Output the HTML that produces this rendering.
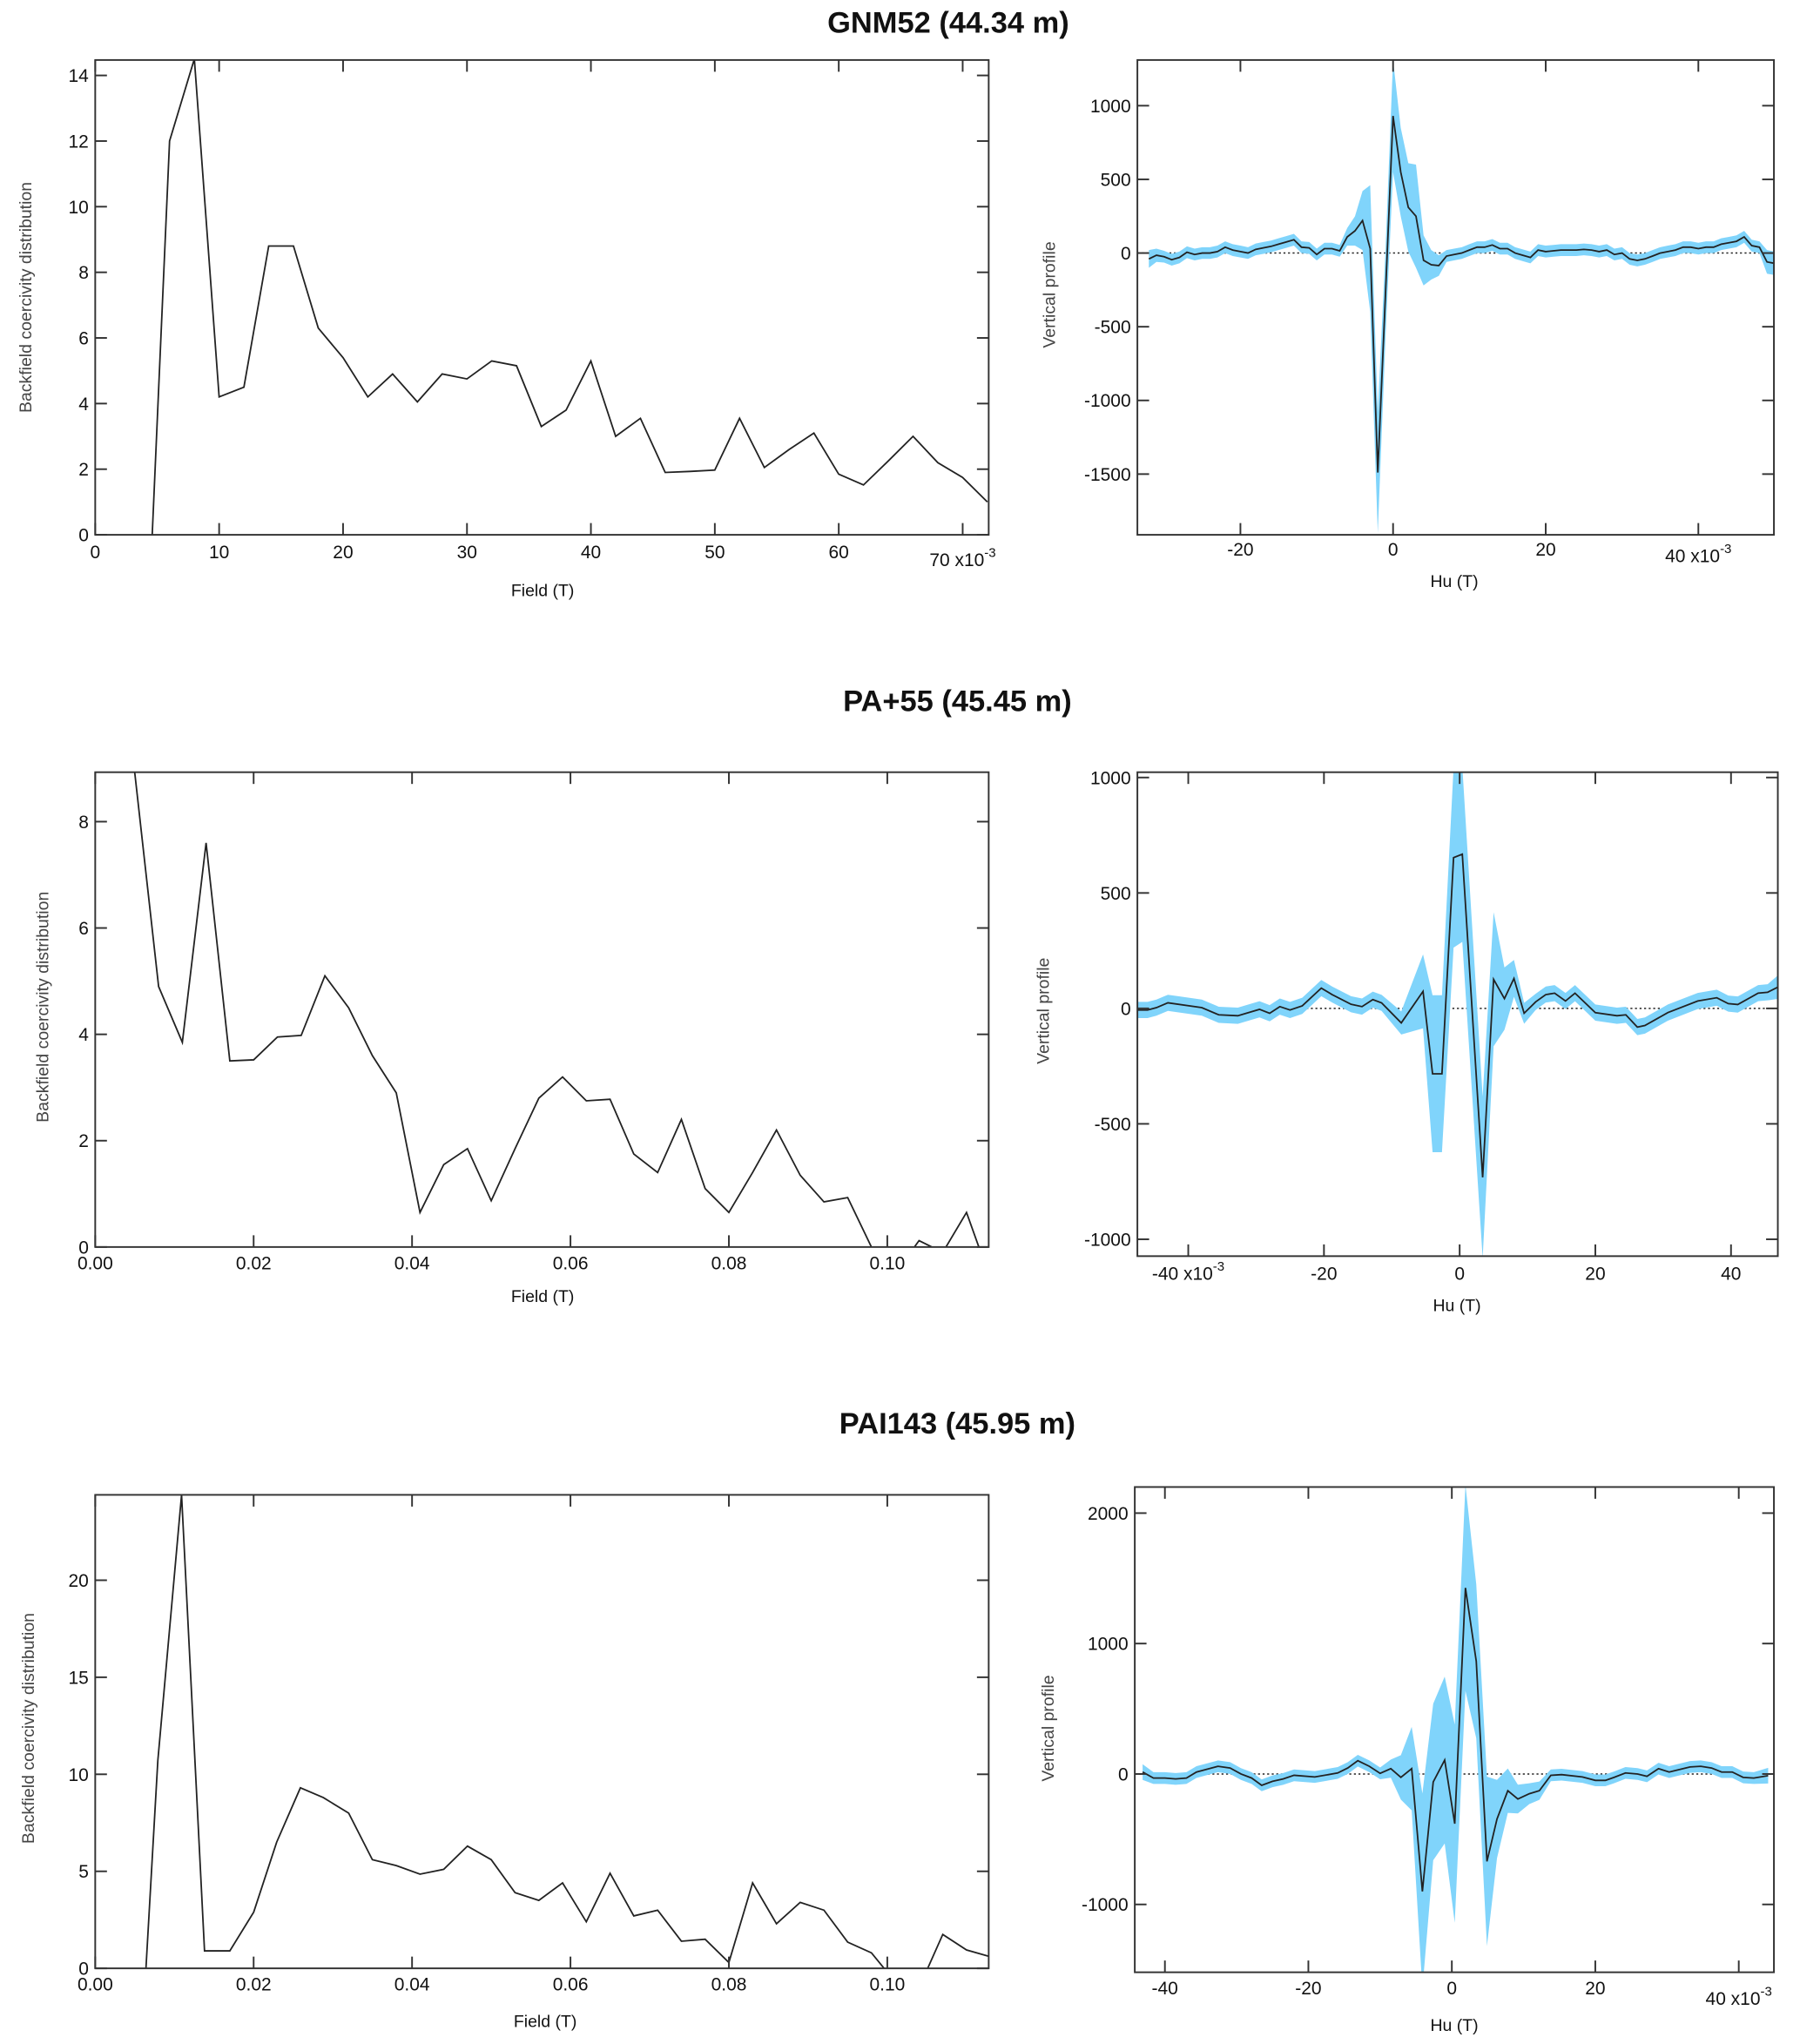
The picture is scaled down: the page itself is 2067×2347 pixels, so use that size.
<!DOCTYPE html>
<html><head><meta charset="utf-8"><style>
html,body{margin:0;padding:0;background:#fff;}
svg{display:block;}
text{font-family:"Liberation Sans Narrow","Liberation Sans",sans-serif;fill:#111;}
.t{font-family:"Liberation Sans Narrow","Liberation Sans",sans-serif;font-weight:bold;font-size:23px;}
</style></head><body>
<svg id="fig" width="2067" height="2347" viewBox="0 0 1380 1567" preserveAspectRatio="none" xmlns="http://www.w3.org/2000/svg">
<text class="t" x="727" y="25" text-anchor="middle">GNM52 (44.34 m)</text>
<text class="t" x="734" y="545" text-anchor="middle">PA+55 (45.45 m)</text>
<text class="t" x="734" y="1099" text-anchor="middle">PAI143 (45.95 m)</text>
</svg>
<script>
// ---- Chart 1 left (GNM52 coercivity) ----
const c1x = [4.6,6,8,10,12,14,16,18,20,22,24,26,28,30,32,34,36,38,40,42,44,46,48,50,52,54,56,58,60,62,64,66,68,70,72];
const c1y = [0,12,14.5,4.2,4.5,8.8,8.8,6.3,5.4,4.2,4.9,4.05,4.9,4.75,5.3,5.15,3.3,3.8,5.3,3.0,3.55,1.9,1.93,1.97,3.55,2.05,2.6,3.1,1.85,1.52,2.25,3.0,2.2,1.75,1.0];
const c1xt = [0,10,20,30,40,50,60,70];
const c1yt = [0,2,4,6,8,10,12,14];
// ---- Chart 1 right (GNM52 vertical profile) ----
const r1x = [-32,-31,-30,-29,-28,-27,-26,-25,-24,-23,-22,-21,-20,-19,-18,-17,-16,-15,-14,-13,-12,-11,-10,-9,-8,-7,-6,-5,-4,-3,-2,-1,0,1,2,3,4,5,6,7,8,9,10,11,12,13,14,15,16,17,18,19,20,21,22,23,24,25,26,27,28,29,30,31,32,33,34,35,36,37,38,39,40,41,42,43,44,45,46,47,48,49,50];
const r1y = [-40,-15,-25,-45,-30,5,-10,0,0,10,40,20,10,0,25,35,45,60,75,90,40,35,-10,30,30,15,110,150,220,30,-1490,-280,930,550,310,250,-50,-80,-85,-20,-10,0,20,40,40,55,30,30,0,-15,-30,20,10,15,20,20,20,25,20,10,20,-10,0,-40,-50,-40,-20,0,10,20,40,40,30,40,40,60,70,80,110,50,40,-60,-70];
const r1e = [60,45,40,40,40,40,40,40,40,40,40,40,40,40,40,40,40,40,40,40,40,40,40,40,40,40,60,100,200,430,410,300,380,300,300,350,170,100,70,40,40,40,40,40,40,40,40,40,40,40,40,40,40,40,40,40,40,40,40,40,40,40,40,40,40,40,40,40,40,40,40,40,40,40,40,40,40,40,40,40,40,80,80];
const r1xt = [-20,0,20,40];
const r1yt = [-1500,-1000,-500,0,500,1000];
// ---- Chart 2 left (PA+55 coercivity) ----
const c2x = [0.004,0.005,0.008,0.011,0.014,0.017,0.020,0.023,0.026,0.029,0.032,0.035,0.038,0.041,0.044,0.047,0.050,0.053,0.056,0.059,0.062,0.065,0.068,0.071,0.074,0.077,0.080,0.083,0.086,0.089,0.092,0.095,0.098,0.101,0.104,0.107,0.110,0.113];
const c2y = [10,8.9,4.9,3.85,7.6,3.5,3.52,3.95,3.98,5.1,4.5,3.6,2.9,0.65,1.55,1.85,0.87,1.85,2.8,3.2,2.75,2.78,1.75,1.4,2.4,1.1,0.65,1.4,2.2,1.35,0.85,0.93,0.0,-0.5,0.12,-0.1,0.65,-0.6];
const c2xt = [0,0.02,0.04,0.06,0.08,0.10];
const c2yt = [0,2,4,6,8];
// ---- Chart 2 right (PA+55 vertical profile) ----
const r2x = [-48.5,-46,-44.7,-43,-38,-35.5,-32.7,-29.5,-28,-26.5,-25,-23.2,-20.4,-18.8,-16,-14.4,-12.8,-11.5,-8.6,-5.4,-4,-2.6,-0.9,0.4,3.4,5,6.6,8,9.5,11.2,12.7,14,15.6,17,20,23.2,24.5,26.2,27.3,30.7,35.1,37.9,39.6,41,44,45.4,47.3];
const r2y = [-7,-7,3,24,3,-28,-32,-4,-21,8,-7,11,88,60,18,8,38,24,-63,74,-283,-283,653,668,-732,126,42,130,-21,28,60,66,32,66,-18,-32,-28,-81,-74,-18,32,46,21,17,66,70,98];
const r2e = [35,35,35,35,35,35,35,35,35,35,35,35,35,35,35,35,35,35,50,160,340,340,390,380,350,290,135,80,45,35,35,35,35,35,35,35,35,35,35,35,35,35,35,35,35,35,55];
const r2xt = [-40,-20,0,20,40];
const r2yt = [-1000,-500,0,500,1000];
// ---- Chart 3 left (PAI143 coercivity) ----
const c3x = [0.0064,0.0079,0.0109,0.0138,0.017,0.020,0.0229,0.0259,0.0288,0.032,0.035,0.038,0.041,0.044,0.047,0.050,0.053,0.056,0.059,0.062,0.065,0.068,0.071,0.074,0.077,0.080,0.083,0.086,0.089,0.092,0.095,0.098,0.101,0.104,0.107,0.110,0.113];
const c3y = [0,10.7,24.4,0.9,0.9,2.9,6.5,9.3,8.8,8.0,5.6,5.3,4.85,5.1,6.3,5.6,3.9,3.5,4.4,2.4,4.9,2.7,3.0,1.4,1.5,0.3,4.4,2.3,3.4,3.0,1.35,0.8,-0.7,-1,1.75,0.95,0.6];
const c3xt = [0,0.02,0.04,0.06,0.08,0.10];
const c3yt = [0,5,10,15,20];
// ---- Chart 3 right (PAI143 vertical profile) ----
const r3x = [-43.1,-41.6,-40,-38.5,-37,-35.6,-32.6,-30.9,-29.4,-27.9,-26.5,-25,-23.5,-22,-19.1,-15.9,-14.5,-13.1,-11.5,-10,-8.5,-7.1,-5.6,-4.1,-2.6,-1,0.4,1.9,3.4,4.9,6.3,7.8,9.2,10.8,12.2,13.8,15.3,18.2,20,21.4,22.6,24.2,25.9,27.2,28.8,30.3,33.2,34.7,36.2,37.6,39.1,40.6,42.1,44.1];
const r3y = [15,-31,-31,-38,-31,15,59,46,0,-31,-87,-56,-38,-10,-23,8,46,102,59,5,41,-26,41,-900,-61,107,-381,1427,864,-670,-345,-128,-192,-151,-128,-10,-5,-23,-49,-49,-26,8,0,-18,41,15,54,59,46,15,15,-26,-31,-13];
const r3e = [60,45,45,45,45,45,45,45,45,45,45,45,45,45,45,45,45,45,45,45,70,170,320,750,600,640,760,790,590,650,300,170,110,80,70,45,45,45,45,45,45,45,45,45,45,45,45,45,45,45,45,45,45,60];
const r3xt = [-40,-20,0,20,40];
const r3yt = [-1000,0,1000,2000];

const NS = 'http://www.w3.org/2000/svg';
const svg = document.getElementById('fig');
function mk(tag, attrs, parent) {
  const e = document.createElementNS(NS, tag);
  for (const k in attrs) e.setAttribute(k, attrs[k]);
  (parent || svg).appendChild(e);
  return e;
}
function fmt(v, dec) { return dec ? v.toFixed(dec) : String(v); }

function chart(cfg) {
  const g = mk('g', {});
  
  
  const sx = v => cfg.L + (v - cfg.x0) / (cfg.x1 - cfg.x0) * (cfg.R - cfg.L);
  const sy = v => cfg.B - (v - cfg.y0) / (cfg.y1 - cfg.y0) * (cfg.B - cfg.T);
  const clipId = cfg.name + '-clip';
  const defs = mk('defs', {}, g);
  const cp = mk('clipPath', {id: clipId}, defs);
  mk('rect', {x: cfg.L, y: cfg.T, width: cfg.R - cfg.L, height: cfg.B - cfg.T}, cp);
  const plot = mk('g', {'clip-path': 'url(#' + clipId + ')'}, g);
  
  
  if (cfg.err) {
    const zl = mk('line', {x1: cfg.L, x2: cfg.R, y1: sy(0), y2: sy(0), stroke: '#222', 'stroke-width': 1, 'stroke-dasharray': '1.5,2'}, plot);
    
    
    let up = '', lo = '';
    cfg.xs.forEach((x, i) => { up += (i ? 'L' : 'M') + sx(x).toFixed(1) + ',' + sy(cfg.ys[i] + cfg.err[i]).toFixed(1); });
    for (let i = cfg.xs.length - 1; i >= 0; i--) lo += 'L' + sx(cfg.xs[i]).toFixed(1) + ',' + sy(cfg.ys[i] - cfg.err[i]).toFixed(1);
    const band = mk('path', {d: up + lo + 'Z', fill: '#80d4fb', stroke: 'none'}, plot);
    
    
  }
  let d = '';
  cfg.xs.forEach((x, i) => { d += (i ? 'L' : 'M') + sx(x).toFixed(1) + ',' + sy(cfg.ys[i]).toFixed(1); });
  const ln = mk('path', {d: d, fill: 'none', stroke: '#222', 'stroke-width': 1.2}, plot);
  
  
  const fr = mk('rect', {x: cfg.L, y: cfg.T, width: cfg.R - cfg.L, height: cfg.B - cfg.T, fill: 'none', stroke: '#333', 'stroke-width': 1.3}, g);
  
  
  const tl = 9;
  cfg.xt.forEach((v, i) => {
    const x = sx(v);
    mk('line', {x1: x, x2: x, y1: cfg.B, y2: cfg.B - tl, stroke: '#333', 'stroke-width': 1.3}, g);
    mk('line', {x1: x, x2: x, y1: cfg.T, y2: cfg.T + tl, stroke: '#333', 'stroke-width': 1.3}, g);
    let label = fmt(v, cfg.xdec);
    const t = mk('text', {x: x, y: cfg.B + cfg.xly, 'text-anchor': 'middle', 'font-size': 14}, g);
    
    
    if (cfg.xexp === i) {
      t.setAttribute('dy', cfg.xexpDy || 0);
      t.textContent = label + ' x10';
      const s = mk('tspan', {'font-size': 10, dy: -7}, t);
      s.textContent = '-3';
    } else t.textContent = label;
  });
  cfg.yt.forEach(v => {
    const y = sy(v);
    mk('line', {x1: cfg.L, x2: cfg.L + tl, y1: y, y2: y, stroke: '#333', 'stroke-width': 1.3}, g);
    mk('line', {x1: cfg.R, x2: cfg.R - tl, y1: y, y2: y, stroke: '#333', 'stroke-width': 1.3}, g);
    const t = mk('text', {x: cfg.L - 5, y: y + 5, 'text-anchor': 'end', 'font-size': 14}, g);
    
    
    t.textContent = fmt(v, cfg.ydec);
  });
  const xt = mk('text', {x: cfg.xtx, y: cfg.xty, 'text-anchor': 'middle', 'font-size': 13}, g);
  
  
  xt.textContent = cfg.xtitle;
  const yt = mk('text', {x: 0, y: 0, 'text-anchor': 'middle', 'font-size': 13, transform: 'translate(' + cfg.ytx + ',' + cfg.yty + ') rotate(-90)', style: 'fill:#444;font-family:Liberation Sans,sans-serif'}, g);
  
  
  yt.textContent = cfg.ytitle;
}

const ylab = 'Backfield coercivity distribution';
chart({name:'gnm52-coercivity-chart', L:73, R:758, T:46, B:410, x0:0, x1:72.1, y0:0, y1:14.47, xs:c1x, ys:c1y, xt:c1xt, yt:c1yt, xly:18, xexp:7, xexpDy:6, xtitle:'Field (T)', xtx:416, xty:457, ytitle:ylab, ytx:24, yty:228});
chart({name:'gnm52-vertical-profile-chart', L:872, R:1360, T:46, B:410, x0:-33.5, x1:49.9, y0:-1912, y1:1310, xs:r1x, ys:r1y, err:r1e, xt:r1xt, yt:r1yt, xly:16, xexp:3, xexpDy:5, xtitle:'Hu (T)', xtx:1115, xty:450, ytitle:'Vertical profile', ytx:809, yty:226});
chart({name:'pa55-coercivity-chart', L:73, R:758, T:592, B:956, x0:0, x1:0.1128, y0:0, y1:8.93, xs:c2x, ys:c2y, xt:c2xt, yt:c2yt, xdec:2, xly:17, xtitle:'Field (T)', xtx:416, xty:998, ytitle:ylab, ytx:37, yty:772});
chart({name:'pa55-vertical-profile-chart', L:872, R:1363, T:592, B:963, x0:-47.5, x1:46.9, y0:-1073, y1:1023, xs:r2x, ys:r2y, err:r2e, xt:r2xt, yt:r2yt, xly:18, xexp:0, xexpDy:0, xtitle:'Hu (T)', xtx:1117, xty:1005, ytitle:'Vertical profile', ytx:804, yty:775});
chart({name:'pai143-coercivity-chart', L:73, R:758, T:1146, B:1509, x0:0, x1:0.1128, y0:0, y1:24.4, xs:c3x, ys:c3y, xt:c3xt, yt:c3yt, xdec:2, xly:17, xtitle:'Field (T)', xtx:418, xty:1554, ytitle:ylab, ytx:26, yty:1325});
chart({name:'pai143-vertical-profile-chart', L:870, R:1360, T:1140, B:1512, x0:-44.2, x1:44.9, y0:-1520, y1:2200, xs:r3x, ys:r3y, err:r3e, xt:r3xt, yt:r3yt, xly:17, xexp:4, xexpDy:8, xtitle:'Hu (T)', xtx:1115, xty:1557, ytitle:'Vertical profile', ytx:808, yty:1325});
</script>
</body></html>
